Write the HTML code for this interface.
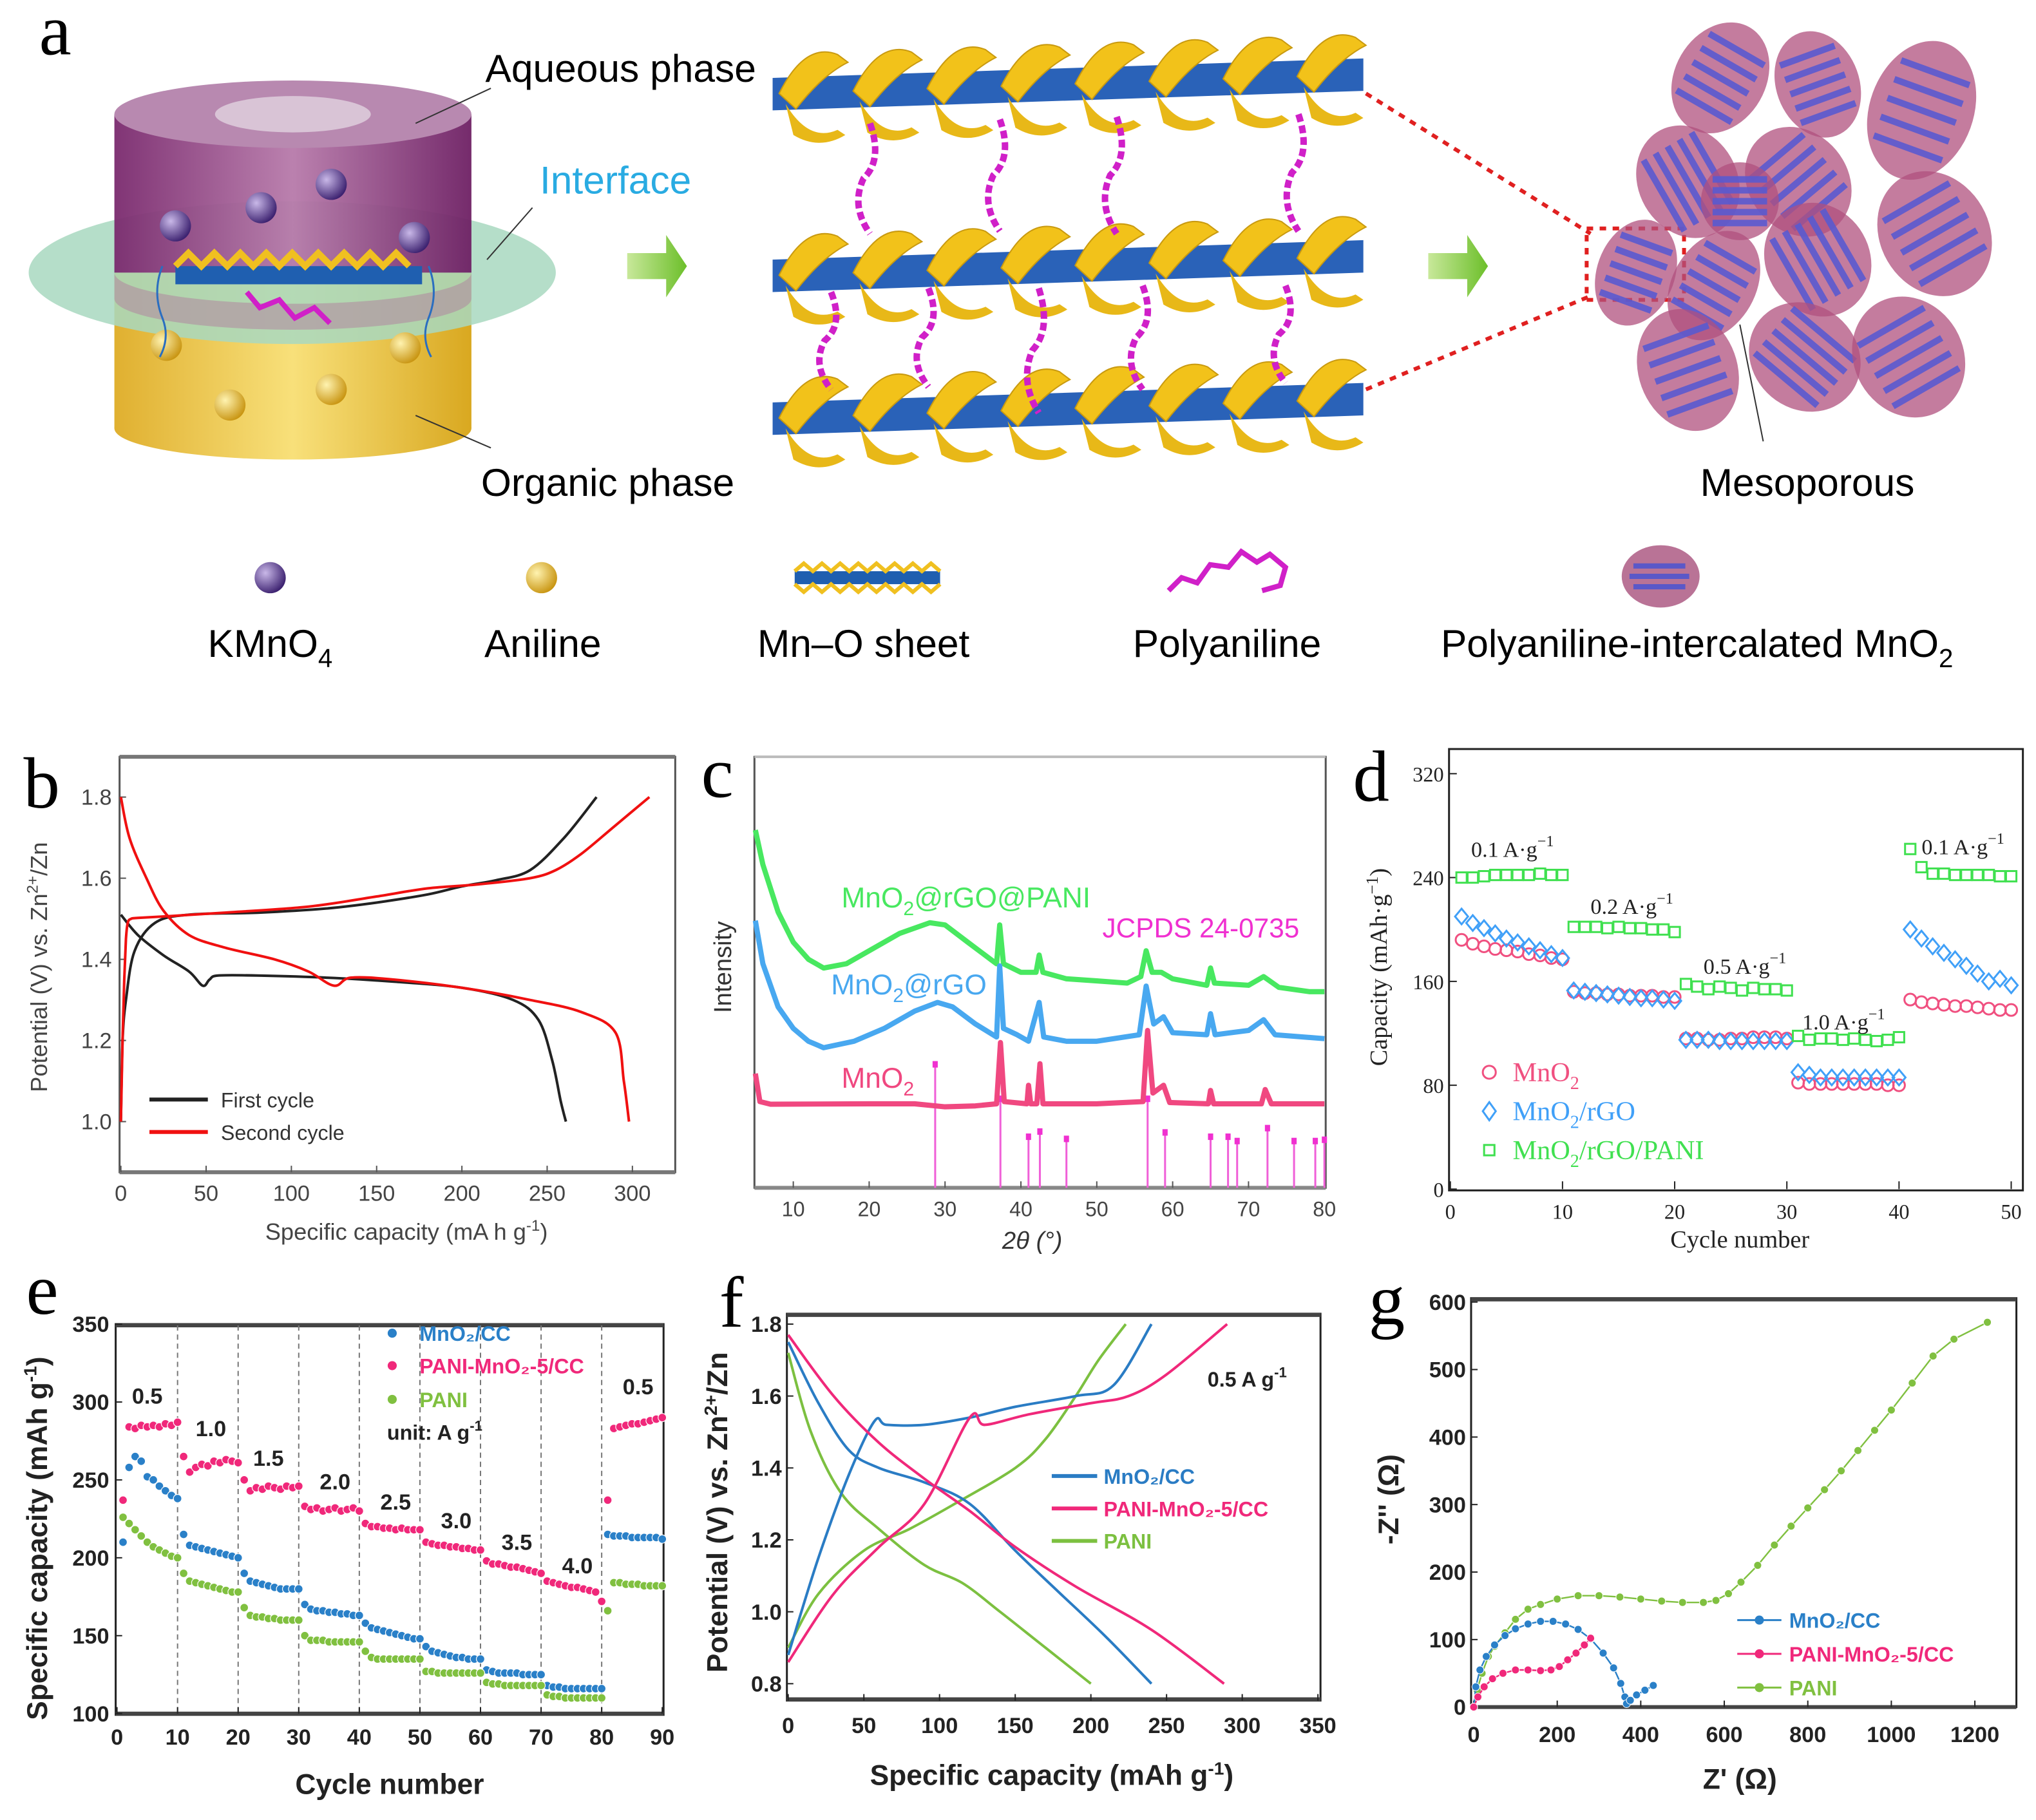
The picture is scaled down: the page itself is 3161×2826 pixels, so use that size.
<!DOCTYPE html>
<html><head><meta charset="utf-8"><style>
html,body{margin:0;padding:0;background:#fff;}
svg{display:block;}
text{font-family:"Liberation Sans",sans-serif;}
.lt{font-family:"Liberation Serif",serif;}
</style></head><body>
<svg id="fig" width="3161" height="2826" viewBox="0 0 1568 1402" xmlns="http://www.w3.org/2000/svg">
<defs>
<linearGradient id="gp" x1="0" x2="1"><stop offset="0" stop-color="#7a2a6e"/><stop offset="0.5" stop-color="#b77aaa"/><stop offset="1" stop-color="#6e2064"/></linearGradient>
<linearGradient id="gy" x1="0" x2="1"><stop offset="0" stop-color="#e0b030"/><stop offset="0.5" stop-color="#f8e07a"/><stop offset="1" stop-color="#d9a820"/></linearGradient>
<radialGradient id="bp" cx="0.35" cy="0.35" r="0.7"><stop offset="0" stop-color="#c9b8e8"/><stop offset="1" stop-color="#3a1f6e"/></radialGradient>
<radialGradient id="by" cx="0.35" cy="0.35" r="0.7"><stop offset="0" stop-color="#fff3b0"/><stop offset="1" stop-color="#c89410"/></radialGradient>
<linearGradient id="ga" x1="0" x2="1"><stop offset="0" stop-color="#c8e89a"/><stop offset="1" stop-color="#6cbf2a"/></linearGradient>
</defs>

<!-- Panel a -->
<g>
<text x="30" y="42" class="lt" font-size="56">a</text>
<g>
<rect x="88" y="210" width="275" height="120" fill="url(#gy)"/>
<ellipse cx="225.5" cy="330" rx="137.5" ry="24" fill="url(#gy)"/>
<ellipse cx="225" cy="210" rx="203" ry="55" fill="#a8d8c0" opacity="0.85"/>
<rect x="88" y="88" width="275" height="122" fill="url(#gp)" opacity="0.95"/>
<path d="M88 210 A137.5 24 0 0 0 363 210 L363 230 A137.5 24 0 0 1 88 230Z" fill="#b08ca0" opacity="0.6"/>
<ellipse cx="225.5" cy="88" rx="137.5" ry="26" fill="#b889b0"/>
<ellipse cx="225.5" cy="88" rx="60" ry="14" fill="#d9c4d6"/>
<g fill="url(#bp)"><circle cx="255" cy="142" r="12"/><circle cx="201" cy="160" r="12"/><circle cx="135" cy="174" r="12"/><circle cx="319" cy="183" r="12"/></g>
<g fill="url(#by)"><circle cx="128" cy="266" r="12"/><circle cx="312" cy="268" r="12"/><circle cx="255" cy="300" r="12"/><circle cx="177" cy="312" r="12"/></g>
<rect x="135" y="205" width="190" height="14" fill="#1f5fb0"/>
<path d="M135 205 l10 -10 l10 10 l10 -10 l10 10 l10 -10 l10 10 l10 -10 l10 10 l10 -10 l10 10 l10 -10 l10 10 l10 -10 l10 10 l10 -10 l10 10 l10 -10 l10 10" fill="none" stroke="#f0c020" stroke-width="5"/>
<path d="M190 225 l10 12 l15 -6 l12 14 l15 -8 l12 12" fill="none" stroke="#d020c8" stroke-width="4"/>
<path d="M125 205 q-8 20 0 40 q6 15 -2 30 M330 205 q8 20 0 40 q-6 15 2 30" fill="none" stroke="#2a6ec0" stroke-width="1.5"/>
</g>
<line x1="320" y1="95" x2="378" y2="68" stroke="#333" stroke-width="1"/>
<line x1="375" y1="200" x2="410" y2="160" stroke="#333" stroke-width="1"/>
<line x1="320" y1="320" x2="378" y2="345" stroke="#333" stroke-width="1"/>
<text x="478" y="63" font-size="30" text-anchor="middle">Aqueous phase</text>
<text x="474" y="149" font-size="30" text-anchor="middle" fill="#29abe2">Interface</text>
<text x="468" y="382" font-size="30" text-anchor="middle">Organic phase</text>
<path d="M483 195 h30 v-14 l16 24 l-16 24 v-14 h-30z" fill="url(#ga)"/>
<path d="M1100 195 h30 v-14 l16 24 l-16 24 v-14 h-30z" fill="url(#ga)"/>
<g id="sheets"></g>
<g stroke="#e02020" stroke-width="3" stroke-dasharray="5,5" fill="none">
<line x1="1052" y1="72" x2="1225" y2="180"/><line x1="1052" y1="300" x2="1225" y2="228"/>
<rect x="1222" y="176" width="75" height="55"/>
</g>
<g id="meso"></g>
<line x1="1340" y1="250" x2="1358" y2="340" stroke="#333" stroke-width="1"/>
<text x="1392" y="382" font-size="30" text-anchor="middle">Mesoporous</text>
<g>
<circle cx="208" cy="445" r="12" fill="url(#bp)"/>
<circle cx="417" cy="445" r="12" fill="url(#by)"/>
<rect x="612" y="440" width="112" height="10" fill="#1f5fb0"/>
<path d="M612 440 l7 -6 l7 6 l7 -6 l7 6 l7 -6 l7 6 l7 -6 l7 6 l7 -6 l7 6 l7 -6 l7 6 l7 -6 l7 6 l7 -6 l7 6 M612 450 l7 6 l7 -6 l7 6 l7 -6 l7 6 l7 -6 l7 6 l7 -6 l7 6 l7 -6 l7 6 l7 -6 l7 6 l7 -6 l7 6 l7 -6" fill="none" stroke="#f0c020" stroke-width="3"/>
<path d="M900 455 l10 -10 l12 4 l10 -14 l14 2 l10 -12 l12 8 l10 -6 l12 10 l-4 14 l-14 4" fill="none" stroke="#d020c8" stroke-width="4"/>
<ellipse cx="1279" cy="444" rx="30" ry="24" fill="#a8507c" opacity="0.8"/>
<path d="M1258 436h40M1255 444h46M1258 452h40" stroke="#5a58c8" stroke-width="4"/>
</g>
<g font-size="30" text-anchor="middle">
<text x="208" y="506">KMnO<tspan font-size="20" dy="8">4</tspan></text>
<text x="418" y="506">Aniline</text>
<text x="665" y="506">Mn–O sheet</text>
<text x="945" y="506">Polyaniline</text>
<text x="1307" y="506">Polyaniline-intercalated MnO<tspan font-size="20" dy="8">2</tspan></text>
</g>
</g>

<!-- panel labels -->
<text x="18" y="622" class="lt" font-size="56">b</text>
<text x="540" y="614" class="lt" font-size="56">c</text>
<text x="1042" y="617" class="lt" font-size="56">d</text>
<text x="20" y="1012" class="lt" font-size="56">e</text>
<text x="554" y="1022" class="lt" font-size="56">f</text>
<text x="1054" y="1020" class="lt" font-size="56">g</text>

<g id="pb"></g>
<g id="pc"></g>
<g id="pd"></g>
<g id="pe"></g>
<g id="pf"></g>
<g id="pg"></g>
</svg>
<script>
// ---------- DATA ----------
// panel b
const bFirstCharge = [[0,1.0],[1,1.2],[3,1.3],[8,1.42],[20,1.49],[40,1.51],[80,1.515],[120,1.525],[150,1.54],[180,1.56],[200,1.58],[220,1.595],[240,1.62],[260,1.7],[279,1.8]];
const bFirstDischarge = [[0,1.51],[10,1.46],[25,1.41],[40,1.37],[48,1.335],[52,1.35],[57,1.36],[80,1.36],[120,1.355],[160,1.345],[200,1.33],[230,1.3],[245,1.25],[253,1.15],[258,1.05],[261,1.0]];
const bSecondCharge = [[0,1.0],[1,1.2],[2,1.35],[3,1.45],[4,1.49],[6,1.5],[10,1.502],[30,1.507],[60,1.515],[110,1.53],[150,1.555],[180,1.575],[210,1.585],[240,1.6],[255,1.62],[270,1.66],[290,1.73],[310,1.8]];
const bSecondDischarge = [[0,1.8],[5,1.7],[15,1.6],[25,1.52],[40,1.46],[60,1.43],[90,1.4],[110,1.37],[125,1.335],[135,1.355],[160,1.35],[200,1.33],[240,1.3],[270,1.27],[290,1.22],[295,1.1],[298,1.0]];
const bXTicks = [0,50,100,150,200,250,300];
const bYTicks = [1.0,1.2,1.4,1.6,1.8];
// panel c
const cGreen = [[5,83],[6,75],[8,64],[10,57],[12,53],[14,51],[17,52],[20,55],[24,59],[28,61.5],[30,61],[33,57],[36,53],[36.8,52],[37.2,61],[37.7,52],[40,50],[42,50],[42.4,54],[42.9,50],[46,48.5],[50,48],[54,47.5],[55.8,49],[56.5,55],[57.3,50],[58.5,50],[60,48.5],[64.5,47],[65,51],[65.5,47.5],[70,47],[72,49],[74,46.5],[78,45.5],[80,45.5]];
const cBlue = [[5,62],[6,52],[8,42],[10,37],[12,34],[14,32.5],[18,34],[22,37],[26,41],[29,43],[31,42],[34,38],[36.8,35],[37.2,51.5],[37.7,37],[39.5,35.5],[41,34],[42.4,43],[43,35],[46,34],[50,34],[55.6,35.5],[56.5,46.8],[57.5,38],[58.8,39.7],[60,36],[64.5,35.5],[65,40.4],[65.6,35.5],[70,36.5],[72,39],[73.5,35.5],[80,34.6]];
const cPink = [[5,26.5],[5.6,20],[7,19.4],[20,19.5],[26,19.5],[30,18.8],[34,19],[36.8,19.5],[37.3,33.7],[37.8,20],[40.8,19.5],[41,23.8],[41.3,19.5],[42.1,19.5],[42.5,28.8],[42.9,19.5],[50,19.5],[56.1,20],[56.7,36.5],[57.4,22],[58.8,23.8],[59.6,19.8],[64.7,19.5],[65,22.6],[65.4,19.5],[71.7,19.5],[72.2,22.8],[73,19.5],[80,19.5]];
const cStickPos = [28.7,37.3,41,42.5,46,56.7,59,65,67.3,68.5,72.5,76,78.8,80];
const cStickH = [28.8,20.8,12,13.2,11.5,20.8,13,12,12,11,14,11,11,11.3];
const cXTicks = [10,20,30,40,50,60,70,80];
// panel d
const dMnO2 = [192,189,187,185,184,183,181,180,178,177, 152,151,151,150,150,149,149,149,148,148, 116,116,115,115,116,116,117,117,117,116, 82,81,81,81,81,81,81,81,80,80, 146,144,143,142,141,141,140,139,138,138];
const dRGO = [210,205,201,197,193,190,187,184,181,178, 153,152,151,150,149,148,147,147,146,145, 115,115,115,114,114,114,114,114,114,114, 90,88,86,86,86,86,86,86,86,86, 200,193,187,182,177,172,166,160,162,157];
const dPANI = [240,240,241,242,242,242,242,243,242,242, 202,202,202,201,202,201,201,200,200,198, 158,156,154,156,155,153,155,154,154,153, 118,115,116,116,115,116,115,114,115,117, 262,248,243,243,242,242,242,242,241,241];
const dXTicks = [0,10,20,30,40,50];
const dYTicks = [0,80,160,240,320];
const dRates = ["0.1","0.2","0.5","1.0","0.1"];
// panel e
const eMnO2 = [210,258,265,262,252,250,246,243,240,238, 215,208,207,206,205,204,203,202,201,200, 190,185,184,183,182,181,180,180,180,180, 170,167,166,166,165,165,164,164,163,163, 158,155,154,153,152,151,150,149,148,148, 143,140,139,138,137,136,136,135,135,135, 128,127,126,126,126,126,125,125,125,125, 118,117,117,116,116,116,116,116,116,116, 215,214,214,214,213,213,213,213,213,212];
const ePANIMnO2 = [237,284,283,285,284,285,284,286,285,287, 265,255,258,260,259,262,261,263,262,261, 250,243,245,244,246,245,244,246,245,246, 233,231,232,230,231,232,230,231,232,230, 222,220,220,219,219,218,219,218,218,218, 210,209,208,208,207,207,206,206,205,205, 198,196,196,195,194,194,193,192,191,190, 185,184,183,182,181,181,180,179,178,172, 237,283,284,285,286,286,287,288,289,290];
const ePANI = [226,222,218,214,210,207,205,203,201,200, 190,185,184,183,182,181,180,179,178,178, 168,163,162,162,161,161,160,160,160,160, 150,147,147,147,146,146,146,146,146,146, 140,136,135,135,135,135,135,135,135,135, 127,127,126,126,126,126,126,126,126,126, 120,119,119,118,118,118,118,118,118,118, 112,111,111,110,110,110,110,110,110,110, 166,184,184,183,183,183,182,182,182,182];
const eXTicks = [0,10,20,30,40,50,60,70,80,90];
const eYTicks = [100,150,200,250,300,350];
const eRateLabels = ["0.5","1.0","1.5","2.0","2.5","3.0","3.5","4.0","0.5"];
const eRateCycles = [5,15.5,25,36,46,56,66,76,86];
const eRateVals = [299,278,259,244,231,219,205,190,305];
// panel f
const fMnO2Charge = [[0,0.88],[20,1.15],[40,1.38],[57,1.53],[65,1.52],[90,1.52],[120,1.54],[150,1.57],[190,1.6],[215,1.63],[240,1.8]];
const fMnO2Discharge = [[0,1.75],[20,1.58],[40,1.45],[60,1.4],[90,1.36],[120,1.3],[150,1.17],[180,1.05],[210,0.93],[240,0.8]];
const fPMCharge = [[0,0.86],[30,1.05],[60,1.18],[90,1.3],[120,1.54],[130,1.52],[160,1.55],[200,1.58],[225,1.6],[250,1.66],[290,1.8]];
const fPMDischarge = [[0,1.77],[30,1.6],[60,1.47],[90,1.37],[120,1.28],[150,1.18],[190,1.07],[240,0.95],[288,0.8]];
const fPANICharge = [[0,0.9],[20,1.05],[50,1.17],[80,1.23],[110,1.3],[150,1.4],[170,1.48],[190,1.6],[205,1.7],[223,1.8]];
const fPANIDischarge = [[0,1.72],[15,1.5],[35,1.33],[60,1.23],[90,1.13],[115,1.08],[140,1.0],[170,0.9],[200,0.8]];
const fXTicks = [0,50,100,150,200,250,300,350];
const fYTicks = [0.8,1.0,1.2,1.4,1.6,1.8];
// panel g
const gPANIre = [0,8,20,35,50,75,100,130,160,200,250,300,350,400,450,500,550,580,610,640,680,720,760,800,840,880,920,960,1000,1050,1100,1150,1230];
const gPANIim = [0,25,50,75,90,110,130,145,152,160,165,165,163,160,157,155,155,158,168,185,210,240,268,295,322,350,380,410,440,480,520,545,570];
const gMnO2re = [0,5,15,30,50,75,100,130,160,190,220,250,280,310,335,352,362,366,375,390,410,430];
const gMnO2im = [0,30,55,75,92,106,116,123,127,127,123,115,101,80,58,35,15,5,10,18,25,32];
const gPMre = [0,10,25,45,70,100,130,160,185,205,225,245,265,280];
const gPMim = [0,15,30,42,50,55,55,54,55,60,70,80,92,102];
const gXTicks = [0,200,400,600,800,1000,1200];
const gYTicks = [0,100,200,300,400,500,600];

// ---------- helpers ----------
const NS = "http://www.w3.org/2000/svg";
function mk(tag, attrs, parent){const e=document.createElementNS(NS,tag);for(const k in attrs)e.setAttribute(k,attrs[k]);parent.appendChild(e);return e;}
function lin(d0,d1,p0,p1){return v=>p0+(v-d0)*(p1-p0)/(d1-d0);}
function pathD(pts,X,Y){return pts.map((p,i)=>(i?"L":"M")+X(p[0]).toFixed(1)+" "+Y(p[1]).toFixed(1)).join(" ");}
function smooth(pts,X,Y){
  const P=pts.map(p=>[X(p[0]),Y(p[1])]);let d="M"+P[0][0]+" "+P[0][1];
  for(let i=0;i<P.length-1;i++){const p0=P[Math.max(0,i-1)],p1=P[i],p2=P[i+1],p3=P[Math.min(P.length-1,i+2)];
    const c1=[p1[0]+(p2[0]-p0[0])/6,p1[1]+(p2[1]-p0[1])/6],c2=[p2[0]-(p3[0]-p1[0])/6,p2[1]-(p3[1]-p1[1])/6];
    d+=" C"+c1[0].toFixed(1)+" "+c1[1].toFixed(1)+" "+c2[0].toFixed(1)+" "+c2[1].toFixed(1)+" "+p2[0].toFixed(1)+" "+p2[1].toFixed(1);}
  return d;}
function txt(parent,x,y,s,size,extra){const t=mk("text",Object.assign({x:x,y:y,"font-size":size},extra||{}),parent);t.textContent=s;return t;}

// ---------- panel a: sheets & meso ----------
(function(){
  const g=document.getElementById("sheets");
  const layers=[[60,-10],[200,0],[310,10]];
  layers.forEach((L,li)=>{
    const y=L[0];
    const band=mk("path",{d:`M595 ${y} L1050 ${y-15} L1050 ${y+10} L595 ${y+25}Z`,fill:"#2a62b8"},g);
    
    
    for(let i=0;i<8;i++){
      const x=600+i*57, yy=y-i*15/8;
      mk("path",{d:`M${x} ${yy+12} q20 -40 45 -30 l8 6 q-20 10 -40 36z`,fill:"#f2c21a",stroke:"#c99a10","stroke-width":1},g);
      mk("path",{d:`M${x+5} ${yy+20} q18 30 40 20 l6 4 q-20 12 -40 0z`,fill:"#e8b818"},g);
    }
  });
  [[670,95,180],[770,92,178],[860,90,180],[1000,88,178],[640,225,300],[715,222,298],[800,222,318],[880,220,300],[990,220,295]].forEach(c=>{
    mk("path",{d:`M${c[0]} ${c[1]} q10 ${(c[2]-c[1])/3} -5 ${(c[2]-c[1])/2} q-10 ${(c[2]-c[1])/4} 5 ${(c[2]-c[1])/2}`,fill:"none",stroke:"#d020c8","stroke-width":5,"stroke-dasharray":"6,3"},g);
  });
  const m=document.getElementById("meso");
  const cells=[[1325,60,35,45,30],[1400,65,32,42,-20],[1480,85,40,55,20],[1300,140,45,38,60],[1385,140,38,45,-40],[1320,220,32,45,30],[1400,200,45,40,60],[1490,180,42,50,-30],[1260,210,30,42,20],[1300,285,38,48,-20],[1390,275,45,40,40],[1470,275,42,48,-30],[1340,155,30,30,0]];
  cells.forEach(c=>{
    const gg=mk("g",{transform:`translate(${c[0]} ${c[1]}) rotate(${c[4]})`},m);
    
    
    mk("ellipse",{cx:0,cy:0,rx:c[2],ry:c[3],fill:"#b0507e",opacity:0.75},gg);
    for(let k=-2;k<=2;k++) mk("line",{x1:-c[2]*0.7,y1:k*c[3]*0.28,x2:c[2]*0.7,y2:k*c[3]*0.28,stroke:"#5a5ad0","stroke-width":5,opacity:0.9},gg);
  });
})();

// ---------- panel b ----------
(function(){
  const g=document.getElementById("pb");
  const X=lin(0,300,93,487), Y=lin(1.0,1.8,864,614);
  const fr=mk("rect",{x:92,y:583,width:428,height:320,fill:"none",stroke:"#555","stroke-width":1.5},g);
  
  
  mk("line",{x1:92,y1:583,x2:520,y2:583,stroke:"#777","stroke-width":3},g);
  mk("line",{x1:92,y1:903,x2:520,y2:903,stroke:"#777","stroke-width":3},g);
  bXTicks.forEach(v=>{mk("line",{x1:X(v),y1:903,x2:X(v),y2:898,stroke:"#555"},g);
    const t=txt(g,X(v),925,String(v),17,{"text-anchor":"middle",fill:"#444"});
    
    });
  bYTicks.forEach(v=>{mk("line",{x1:92,y1:Y(v),x2:97,y2:Y(v),stroke:"#555"},g);
    const t=txt(g,86,Y(v)+6,v.toFixed(1),17,{"text-anchor":"end",fill:"#444"});
    
    });
  const xl=txt(g,313,955,"Specific capacity (mA h g",18,{"text-anchor":"middle",fill:"#444"});
  mk("tspan",{dy:-7,"font-size":12},xl).textContent="-1";
  mk("tspan",{dy:7},xl).textContent=")";
  
  
  const yl=txt(g,0,0,"Potential (V) vs. Zn",18,{"text-anchor":"middle",fill:"#444",transform:"translate(36 745) rotate(-90)"});
  mk("tspan",{dy:-7,"font-size":12},yl).textContent="2+";
  mk("tspan",{dy:7},yl).textContent="/Zn";
  
  
  [[bFirstCharge,"#222","first-cycle-charge"],[bFirstDischarge,"#222","first-cycle-discharge"],[bSecondCharge,"#f01010","second-cycle-charge"],[bSecondDischarge,"#f01010","second-cycle-discharge"]].forEach(s=>{
    const p=mk("path",{d:smooth(s[0],X,Y),fill:"none",stroke:s[1],"stroke-width":2},g);
    
    
  });
  [["First cycle","#222",847],["Second cycle","#f01010",872]].forEach(l=>{
    const lg=mk("g",{},g);
    
    
    mk("line",{x1:115,y1:l[2],x2:160,y2:l[2],stroke:l[1],"stroke-width":3},lg);
    txt(lg,170,l[2]+6,l[0],16,{fill:"#333"});
  });
})();

// ---------- panel c ----------
(function(){
  const g=document.getElementById("pc");
  const X=lin(5,80,581.7,1020), Y=lin(0,100,915,583);
  const fr=mk("rect",{x:581,y:583,width:440,height:332,fill:"none",stroke:"#555","stroke-width":1.5},g);
  
  
  mk("line",{x1:581,y1:915,x2:1021,y2:915,stroke:"#888","stroke-width":3},g);
  mk("line",{x1:581,y1:583,x2:1021,y2:583,stroke:"#bbb","stroke-width":2},g);
  cXTicks.forEach(v=>{mk("line",{x1:X(v),y1:915,x2:X(v),y2:910,stroke:"#555"},g);
    const t=txt(g,X(v),937,String(v),16,{"text-anchor":"middle",fill:"#444"});
    
    });
  const xl=txt(g,795,962,"2θ (°)",19,{"text-anchor":"middle",fill:"#333","font-style":"italic"});
  
  
  const yl=txt(g,0,0,"Intensity",19,{"text-anchor":"middle",fill:"#333",transform:"translate(563 745) rotate(-90)"});
  
  
  cStickPos.forEach((p,i)=>{
    const l=mk("line",{x1:X(p),y1:915,x2:X(p),y2:Y(cStickH[i]),stroke:"#f060d8","stroke-width":1.5},g);
    
    
    const c=mk("rect",{x:X(p)-2,y:Y(cStickH[i])-2,width:4,height:5,fill:"#f030d0"},g);
    
    
  });
  [[cGreen,"#48e860","mno2-rgo-pani-pattern"],[cBlue,"#48a8f0","mno2-rgo-pattern"],[cPink,"#f04880","mno2-pattern"]].forEach(s=>{
    const p=mk("path",{d:pathD(s[0],X,Y),fill:"none",stroke:s[1],"stroke-width":4,"stroke-linejoin":"round"},g);
    
    
  });
  function lab(x,y,base,rest,col,name){const t=txt(g,x,y,base,22,{fill:col});mk("tspan",{dy:6,"font-size":15},t).textContent="2";mk("tspan",{dy:-6},t).textContent=rest;
    
    }
  lab(648,699,"MnO","@rGO@PANI","#48e860","label-mno2-rgo-pani");
  lab(640,766,"MnO","@rGO","#48a8f0","label-mno2-rgo");
  lab(648,838,"MnO","","#f04880","label-mno2");
  const j=txt(g,849,722,"JCPDS 24-0735",21,{fill:"#f030d0"});
  
  
})();

// ---------- panel d ----------
(function(){
  const g=document.getElementById("pd");
  const X=lin(0,50,1117,1549), Y=lin(0,320,916,596);
  const fr=mk("rect",{x:1116,y:577,width:442,height:340,fill:"none",stroke:"#222","stroke-width":1.5},g);
  
  
  dXTicks.forEach(v=>{mk("line",{x1:X(v),y1:916,x2:X(v),y2:910,stroke:"#222"},g);
    const t=txt(g,X(v),939,String(v),16,{"text-anchor":"middle",fill:"#222",class:"lt"});
    
    });
  dYTicks.forEach(v=>{mk("line",{x1:1116,y1:Y(v),x2:1122,y2:Y(v),stroke:"#222"},g);
    const t=txt(g,1112,Y(v)+6,String(v),16,{"text-anchor":"end",fill:"#222",class:"lt"});
    
    });
  const xl=txt(g,1340,961,"Cycle number",19,{"text-anchor":"middle",fill:"#222",class:"lt"});
  
  
  const yl=txt(g,0,0,"Capacity (mAh·g",19,{"text-anchor":"middle",fill:"#222",class:"lt",transform:"translate(1068 745) rotate(-90)"});
  mk("tspan",{dy:-7,"font-size":13},yl).textContent="−1";
  mk("tspan",{dy:7},yl).textContent=")";
  
  
  dMnO2.forEach((v,i)=>{const c=mk("circle",{cx:X(i+1),cy:Y(v),r:4.5,fill:"none",stroke:"#f05080","stroke-width":1.5},g);
    
    });
  dRGO.forEach((v,i)=>{const x=X(i+1),y=Y(v);const c=mk("path",{d:`M${x} ${y-6}L${x+5} ${y}L${x} ${y+6}L${x-5} ${y}Z`,fill:"none",stroke:"#40a0f8","stroke-width":1.5},g);
    
    });
  dPANI.forEach((v,i)=>{const c=mk("rect",{x:X(i+1)-4,y:Y(v)-4,width:8,height:8,fill:"none",stroke:"#40e050","stroke-width":1.5},g);
    
    });
  [[1133,660],[1225,704],[1312,750],[1388,793],[1480,658]].forEach((p,i)=>{
    const t=txt(g,p[0],p[1],dRates[i]+" A·g",17,{fill:"#222",class:"lt"});
    mk("tspan",{dy:-8,"font-size":12},t).textContent="−1";
    
    
  });
  const leg=[["MnO","","#f05080","c"],["MnO","/rGO","#40a0f8","d"],["MnO","/rGO/PANI","#40e050","s"]];
  leg.forEach((l,i)=>{
    const y=826+i*30;const lg=mk("g",{},g);
    
    
    if(l[3]=="c")mk("circle",{cx:1147,cy:y,r:5,fill:"none",stroke:l[2],"stroke-width":1.5},lg);
    if(l[3]=="d")mk("path",{d:`M1147 ${y-7}L1152 ${y}L1147 ${y+7}L1142 ${y}Z`,fill:"none",stroke:l[2],"stroke-width":1.5},lg);
    if(l[3]=="s")mk("rect",{x:1143,y:y-4,width:8,height:8,fill:"none",stroke:l[2],"stroke-width":1.5},lg);
    const t=txt(lg,1165,y+7,l[0],21,{fill:l[2],class:"lt"});
    mk("tspan",{dy:6,"font-size":14},t).textContent="2";
    mk("tspan",{dy:-6},t).textContent=l[1];
  });
})();

// ---------- panel e ----------
(function(){
  const g=document.getElementById("pe");
  const X=lin(0,90,90,510), Y=lin(100,350,1320,1020);
  const fr=mk("rect",{x:89,y:1020,width:422,height:301,fill:"none",stroke:"#222","stroke-width":1.5},g);
  
  
  mk("line",{x1:89,y1:1021,x2:511,y2:1021,stroke:"#444","stroke-width":3},g);
  mk("line",{x1:89,y1:1320,x2:511,y2:1320,stroke:"#444","stroke-width":3},g);
  for(let c=10;c<=80;c+=10){const l=mk("line",{x1:X(c),y1:1021,x2:X(c),y2:1320,stroke:"#777","stroke-dasharray":"4,3","stroke-width":1},g);
    
    }
  eXTicks.forEach(v=>{mk("line",{x1:X(v),y1:1320,x2:X(v),y2:1315,stroke:"#222"},g);
    const t=txt(g,X(v),1344,String(v),17,{"text-anchor":"middle",fill:"#222","font-weight":"bold"});
    
    });
  eYTicks.forEach(v=>{mk("line",{x1:89,y1:Y(v),x2:94,y2:Y(v),stroke:"#222"},g);
    const t=txt(g,84,Y(v)+6,String(v),17,{"text-anchor":"end",fill:"#222","font-weight":"bold"});
    
    });
  const xl=txt(g,300,1382,"Cycle number",22,{"text-anchor":"middle",fill:"#222","font-weight":"bold"});
  
  
  const yl=txt(g,0,0,"Specific capacity (mAh g",22,{"text-anchor":"middle",fill:"#222","font-weight":"bold",transform:"translate(36 1185) rotate(-90)"});
  mk("tspan",{dy:-8,"font-size":14},yl).textContent="-1";
  mk("tspan",{dy:8},yl).textContent=")";
  
  
  [[eMnO2,"#2a80c8","mno2-cc-point"],[ePANIMnO2,"#f0287a","pani-mno2-point"],[ePANI,"#80c040","pani-point"]].forEach(s=>{
    s[0].forEach((v,i)=>{const c=mk("circle",{cx:X(i+1),cy:Y(v),r:3.2,fill:s[1],stroke:"#fff","stroke-width":0.6},g);
      
      });
  });
  eRateLabels.forEach((s,i)=>{const t=txt(g,X(eRateCycles[i]),Y(eRateVals[i]),s,17,{"text-anchor":"middle",fill:"#222","font-weight":"bold"});
    
    });
  [["MnO₂/CC","#2a80c8",1027],["PANI-MnO₂-5/CC","#f0287a",1052],["PANI","#80c040",1078]].forEach(l=>{
    const lg=mk("g",{},g);
    
    
    mk("circle",{cx:302,cy:l[2],r:3.5,fill:l[1]},lg);
    txt(lg,323,l[2]+6,l[0],16,{fill:l[1],"font-weight":"bold"});
  });
  const u=txt(g,298,1109,"unit: A g",16,{fill:"#222","font-weight":"bold"});
  mk("tspan",{dy:-7,"font-size":11},u).textContent="-1";
  
  
})();

// ---------- panel f ----------
(function(){
  const g=document.getElementById("pf");
  const X=lin(0,350,607,1015), Y=lin(0.8,1.8,1297,1020);
  const fr=mk("rect",{x:606,y:1012,width:411,height:298,fill:"none",stroke:"#222","stroke-width":1.5},g);
  
  
  mk("line",{x1:606,y1:1013,x2:1017,y2:1013,stroke:"#444","stroke-width":3},g);
  mk("line",{x1:606,y1:1309,x2:1017,y2:1309,stroke:"#444","stroke-width":3},g);
  fXTicks.forEach(v=>{mk("line",{x1:X(v),y1:1310,x2:X(v),y2:1305,stroke:"#222"},g);
    const t=txt(g,X(v),1335,String(v),17,{"text-anchor":"middle",fill:"#222","font-weight":"bold"});
    
    });
  fYTicks.forEach(v=>{mk("line",{x1:606,y1:Y(v),x2:611,y2:Y(v),stroke:"#222"},g);
    const t=txt(g,602,Y(v)+6,v.toFixed(1),17,{"text-anchor":"end",fill:"#222","font-weight":"bold"});
    
    });
  const xl=txt(g,810,1375,"Specific capacity (mAh g",22,{"text-anchor":"middle",fill:"#222","font-weight":"bold"});
  mk("tspan",{dy:-8,"font-size":14},xl).textContent="-1";
  mk("tspan",{dy:8},xl).textContent=")";
  
  
  const yl=txt(g,0,0,"Potential (V) vs. Zn",22,{"text-anchor":"middle",fill:"#222","font-weight":"bold",transform:"translate(560 1165) rotate(-90)"});
  mk("tspan",{dy:-8,"font-size":14},yl).textContent="2+";
  mk("tspan",{dy:8},yl).textContent="/Zn";
  
  
  [[fPANICharge,"#7cc040","pani-charge"],[fPANIDischarge,"#7cc040","pani-discharge"],[fMnO2Charge,"#2a7cc4","mno2-cc-charge"],[fMnO2Discharge,"#2a7cc4","mno2-cc-discharge"],[fPMCharge,"#f0287a","pani-mno2-charge"],[fPMDischarge,"#f0287a","pani-mno2-discharge"]].forEach(s=>{
    const p=mk("path",{d:smooth(s[0],X,Y),fill:"none",stroke:s[1],"stroke-width":2},g);
    
    
  });
  [["MnO₂/CC","#2a7cc4",1137],["PANI-MnO₂-5/CC","#f0287a",1162],["PANI","#7cc040",1187]].forEach(l=>{
    const lg=mk("g",{},g);
    
    
    mk("line",{x1:810,y1:l[2],x2:845,y2:l[2],stroke:l[1],"stroke-width":3},lg);
    txt(lg,850,l[2]+6,l[0],16,{fill:l[1],"font-weight":"bold"});
  });
  const r=txt(g,930,1068,"0.5 A g",16,{fill:"#222","font-weight":"bold"});
  mk("tspan",{dy:-7,"font-size":11},r).textContent="-1";
  
  
})();

// ---------- panel g ----------
(function(){
  const g=document.getElementById("pg");
  const X=lin(0,1200,1135,1521), Y=lin(0,600,1315,1003);
  const fr=mk("rect",{x:1133,y:1000,width:420,height:315,fill:"none",stroke:"#222","stroke-width":1.5},g);
  
  
  mk("line",{x1:1133,y1:1001,x2:1553,y2:1001,stroke:"#444","stroke-width":3},g);
  mk("line",{x1:1133,y1:1315,x2:1553,y2:1315,stroke:"#444","stroke-width":3},g);
  gXTicks.forEach(v=>{mk("line",{x1:X(v),y1:1315,x2:X(v),y2:1310,stroke:"#222"},g);
    const t=txt(g,X(v),1342,String(v),17,{"text-anchor":"middle",fill:"#222","font-weight":"bold"});
    
    });
  gYTicks.forEach(v=>{mk("line",{x1:1133,y1:Y(v),x2:1138,y2:Y(v),stroke:"#222"},g);
    const t=txt(g,1129,Y(v)+6,String(v),17,{"text-anchor":"end",fill:"#222","font-weight":"bold"});
    
    });
  const xl=txt(g,1340,1378,"Z' (Ω)",22,{"text-anchor":"middle",fill:"#222","font-weight":"bold"});
  
  
  const yl=txt(g,0,0,"-Z'' (Ω)",22,{"text-anchor":"middle",fill:"#222","font-weight":"bold",transform:"translate(1077 1155) rotate(-90)"});
  
  
  [[gPANIre,gPANIim,"#80c040","pani"],[gMnO2re,gMnO2im,"#2a80c8","mno2-cc"],[gPMre,gPMim,"#f0287a","pani-mno2"]].forEach(s=>{
    const pts=s[0].map((v,i)=>[v,s[1][i]]);
    const p=mk("path",{d:pathD(pts,X,Y),fill:"none",stroke:s[2],"stroke-width":1.2},g);
    
    
    pts.forEach(q=>{const c=mk("circle",{cx:X(q[0]),cy:Y(q[1]),r:3,fill:s[2],stroke:"#fff","stroke-width":0.5},g);
      
      });
  });
  [["MnO₂/CC","#2a80c8",1248],["PANI-MnO₂-5/CC","#f0287a",1274],["PANI","#80c040",1300]].forEach(l=>{
    const lg=mk("g",{},g);
    
    
    mk("line",{x1:1338,y1:l[2],x2:1372,y2:l[2],stroke:l[1],"stroke-width":1.5},lg);
    mk("circle",{cx:1355,cy:l[2],r:3.5,fill:l[1]},lg);
    txt(lg,1378,l[2]+6,l[0],16,{fill:l[1],"font-weight":"bold"});
  });
})();
</script>
</body></html>
